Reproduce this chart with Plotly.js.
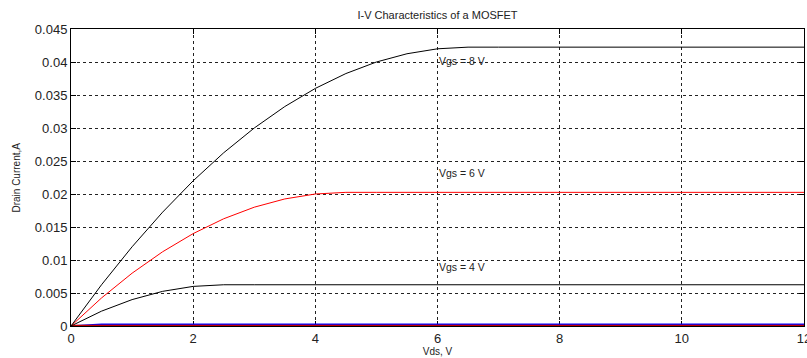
<!DOCTYPE html>
<html>
<head>
<meta charset="utf-8">
<script src="https://cdn.plot.ly/plotly-3.0.1.min.js"></script>
<style>html,body{margin:0;padding:0;background:#fff;}#chart{width:807px;height:358px;}</style>
</head>
<body>
<div id="chart"></div>
<script>
// Drain-source voltage samples (V)
var vds = [0,0.5,1,1.5,2,2.5,3,3.5,4,4.5,5,5.5,6,6.5,7,7.5,8,8.5,9,9.5,10,10.5,11,11.5,12];
// Drain current (A)
var idVgs0 = [0,0,0,0,0,0,0,0,0,0,0,0,0,0,0,0,0,0,0,0,0,0,0,0,0];
var idVgs2 = [0,0.00025,0.00025,0.00025,0.00025,0.00025,0.00025,0.00025,0.00025,0.00025,0.00025,0.00025,0.00025,0.00025,0.00025,0.00025,0.00025,0.00025,0.00025,0.00025,0.00025,0.00025,0.00025,0.00025,0.00025];
var idVgs4 = [0,0.00225,0.004,0.00525,0.006,0.00625,0.00625,0.00625,0.00625,0.00625,0.00625,0.00625,0.00625,0.00625,0.00625,0.00625,0.00625,0.00625,0.00625,0.00625,0.00625,0.00625,0.00625,0.00625,0.00625];
var idVgs6 = [0,0.00425,0.008,0.01125,0.014,0.01625,0.018,0.01925,0.020,0.02025,0.02025,0.02025,0.02025,0.02025,0.02025,0.02025,0.02025,0.02025,0.02025,0.02025,0.02025,0.02025,0.02025,0.02025,0.02025];
var idVgs8 = [0,0.00625,0.012,0.01725,0.022,0.02625,0.030,0.03325,0.036,0.03825,0.040,0.04125,0.042,0.04225,0.04225,0.04225,0.04225,0.04225,0.04225,0.04225,0.04225,0.04225,0.04225,0.04225,0.04225];
// Curve labels
var labelText = ["Vgs = 8 V","Vgs = 6 V","Vgs = 4 V"];
var labelX = [6,6,6];
var labelY = [0.0402,0.0232,0.0090];
// Axis ticks
var xTicks = [0,2,4,6,8,10,12];
var yTicks = [0,0.005,0.01,0.015,0.02,0.025,0.03,0.035,0.04,0.045];
var yTickText = ["0","0.005","0.01","0.015","0.02","0.025","0.03","0.035","0.04","0.045"];

var FONT = "Liberation Sans, Arial, sans-serif";

function tr(y, color, w) {
  return {x: vds, y: y, type: "scatter", mode: "lines",
          line: {color: color, width: w}, hoverinfo: "skip", showlegend: false};
}
var data = [
  tr(idVgs2, "#0000ff", 1.5),
  tr(idVgs0, "#c00000", 2.5),
  tr(idVgs4, "#000000", 1),
  tr(idVgs6, "#ff0000", 1),
  tr(idVgs8, "#000000", 1)
];

var annotations = labelText.map(function(t, i) {
  return {x: labelX[i], y: labelY[i], xref: "x", yref: "y", text: t,
          showarrow: false, xanchor: "left", yanchor: "middle",
          font: {family: FONT, size: 10.5, color: "#222"}, borderpad: 0};
});
annotations.push({
  x: -0.075, y: 0.5, xref: "paper", yref: "paper", text: "Drain Current,A",
  textangle: -90, showarrow: false, xanchor: "center", yanchor: "middle",
  font: {family: FONT, size: 10, color: "#222"}
});

var axisCommon = {
  showline: true, linecolor: "#000", linewidth: 1, mirror: "allticks",
  ticks: "inside", ticklen: 5, tickcolor: "#000", tickwidth: 1,
  showgrid: true, gridcolor: "#222", gridwidth: 1, griddash: "3px,3px",
  zeroline: false, ticklabeloverflow: "allow",
  tickfont: {family: FONT, size: 13, color: "#222"}
};

var layout = {
  width: 807, height: 358,
  margin: {l: 71, r: 3, t: 29, b: 32},
  paper_bgcolor: "#fff", plot_bgcolor: "#fff",
  title: {text: "I-V Characteristics of a MOSFET", xref: "paper", x: 0.5,
          yref: "container", y: 0.958, yanchor: "middle",
          font: {family: FONT, size: 11, color: "#222"}},
  xaxis: Object.assign({}, axisCommon, {
    range: [0, 12], tickvals: xTicks, ticktext: xTicks.map(String),
    layer: "below traces",
    title: {text: "Vds, V", standoff: 0, font: {family: FONT, size: 10, color: "#222"}}
  }),
  yaxis: Object.assign({}, axisCommon, {
    range: [0, 0.045], tickvals: yTicks, ticktext: yTickText
  }),
  annotations: annotations
};

Plotly.newPlot("chart", data, layout, {displayModeBar: false, staticPlot: true});
</script>
</body>
</html>
